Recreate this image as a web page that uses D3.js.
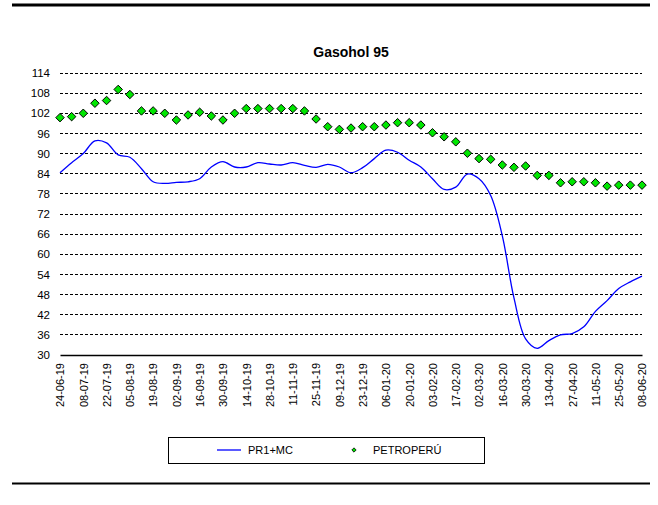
<!DOCTYPE html>
<html>
<head>
<meta charset="utf-8">
<script src="https://cdn.jsdelivr.net/npm/d3@7"></script>
<style>
  body { margin: 0; background: #fff; }
  svg { display: block; font-family: "Liberation Sans", Arial, sans-serif; }
</style>
</head>
<body>
<svg id="chart" width="658" height="505"></svg>
<script>
// weekly categories
const weeks = [
  '24-06-19', '01-07-19', '08-07-19', '15-07-19', '22-07-19', '29-07-19', '05-08-19', '12-08-19',
  '19-08-19', '26-08-19', '02-09-19', '09-09-19', '16-09-19', '23-09-19', '30-09-19', '07-10-19',
  '14-10-19', '21-10-19', '28-10-19', '04-11-19', '11-11-19', '18-11-19', '25-11-19', '02-12-19',
  '09-12-19', '16-12-19', '23-12-19', '30-12-19', '06-01-20', '13-01-20', '20-01-20', '27-01-20',
  '03-02-20', '10-02-20', '17-02-20', '24-02-20', '02-03-20', '09-03-20', '16-03-20', '23-03-20',
  '30-03-20', '06-04-20', '13-04-20', '20-04-20', '27-04-20', '04-05-20', '11-05-20', '18-05-20',
  '25-05-20', '01-06-20', '08-06-20'
];

const pr1mc = [
  84.3, 87.3, 90.0, 93.8, 93.2, 89.6, 88.9, 85.5, 81.6, 81.1,
  81.4, 81.6, 82.5, 86.0, 87.6, 86.0, 86.0, 87.3, 86.9, 86.6,
  87.3, 86.5, 85.9, 86.8, 86.0, 84.3, 85.8, 88.5, 91.0, 90.4,
  88.0, 86.0, 82.5, 79.3, 80.0, 83.9, 82.5, 77.5, 65.5, 47.0,
  34.8, 32.0, 34.3, 36.0, 36.4, 38.4, 43.0, 46.2, 49.8, 51.8,
  53.5
];

const petroperu = [
  100.7, 101.0, 102.0, 105.0, 105.8, 109.1, 107.6, 102.7, 102.7, 102.0,
  100.0, 101.5, 102.3, 101.2, 100.0, 102.0, 103.4, 103.4, 103.4, 103.4,
  103.4, 102.7, 100.3, 98.0, 97.2, 97.6, 98.0, 98.0, 98.5, 99.2,
  99.2, 98.5, 96.2, 95.0, 93.5, 90.1, 88.5, 88.3, 86.6, 85.9,
  86.3, 83.5, 83.5, 81.3, 81.6, 81.6, 81.3, 80.3, 80.6, 80.6,
  80.6
];

const yTicks = [30, 36, 42, 48, 54, 60, 66, 72, 78, 84, 90, 96, 102, 108, 114];

const svg = d3.select('#chart');
const plot = { left: 60, right: 642, top: 73, bottom: 355 };

// frame lines top and bottom
svg.append('line')
  .attr('x1', 12).attr('x2', 650).attr('y1', 5).attr('y2', 5)
  .attr('stroke', '#000').attr('stroke-width', 3);
svg.append('line')
  .attr('x1', 12).attr('x2', 650).attr('y1', 483.5).attr('y2', 483.5)
  .attr('stroke', '#000').attr('stroke-width', 2);

svg.append('text')
  .attr('x', 351).attr('y', 57)
  .attr('text-anchor', 'middle')
  .attr('font-size', '14px')
  .attr('font-weight', 'bold')
  .text('Gasohol 95');

const x = d3.scalePoint().domain(weeks).range([plot.left, plot.right]);
const y = d3.scaleLinear().domain([30, 114]).range([plot.bottom, plot.top]);

// gridlines
svg.append('g')
  .selectAll('line')
  .data(yTicks.filter((d) => d > 30))
  .join('line')
    .attr('x1', plot.left).attr('x2', plot.right)
    .attr('y1', (d) => y(d)).attr('y2', (d) => y(d))
    .attr('stroke', '#000')
    .attr('stroke-width', 1)
    .attr('stroke-dasharray', '3,2')
    .attr('shape-rendering', 'crispEdges');

const yAxis = svg.append('g')
  .attr('transform', `translate(${plot.left},0)`)
  .call(d3.axisLeft(y).tickValues(yTicks).tickSize(0).tickPadding(10));
yAxis.select('.domain').remove();
yAxis.selectAll('text').attr('font-size', '11.5px').attr('fill', '#000')
  .attr('font-family', '"Liberation Sans", Arial, sans-serif');

const xAxis = svg.append('g')
  .attr('transform', `translate(0,${plot.bottom})`)
  .call(d3.axisBottom(x).tickValues(weeks.filter((d, i) => i % 2 === 0)).tickSize(0).tickPadding(8));
xAxis.select('.domain')
  .attr('stroke', '#000').attr('stroke-width', 1.5);
xAxis.selectAll('text')
  .attr('font-size', '11px').attr('fill', '#000')
  .attr('font-family', '"Liberation Sans", Arial, sans-serif')
  .attr('transform', 'rotate(-90)')
  .attr('text-anchor', 'end')
  .attr('x', -8)
  .attr('y', 0)
  .attr('dy', '0.35em');

const line = d3.line()
  .x((d, i) => x(weeks[i]))
  .y((d) => y(d))
  .curve(d3.curveCatmullRom.alpha(0.5));

svg.append('path')
  .datum(pr1mc)
  .attr('fill', 'none')
  .attr('stroke', '#0000ff')
  .attr('stroke-width', 1.3)
  .attr('d', line);

const diamond = d3.symbol().type(d3.symbolDiamond2).size(46);
svg.append('g')
  .selectAll('path')
  .data(petroperu)
  .join('path')
    .attr('transform', (d, i) => `translate(${x(weeks[i])},${y(d)})`)
    .attr('d', diamond)
    .attr('fill', '#00e600')
    .attr('stroke', '#000')
    .attr('stroke-width', 1);

// legend
const legend = svg.append('g');
legend.append('rect')
  .attr('x', 168.5).attr('y', 437.5).attr('width', 316).attr('height', 26)
  .attr('fill', '#fff').attr('stroke', '#000').attr('stroke-width', 1);
legend.append('line')
  .attr('x1', 217).attr('x2', 241).attr('y1', 450).attr('y2', 450)
  .attr('stroke', '#0000ff').attr('stroke-width', 1.3);
legend.append('text')
  .attr('x', 248).attr('y', 454).attr('font-size', '11px').text('PR1+MC');
legend.append('path')
  .attr('transform', 'translate(354,450)')
  .attr('d', d3.symbol().type(d3.symbolDiamond2).size(12))
  .attr('fill', '#00e600').attr('stroke', '#000').attr('stroke-width', 0.8);
legend.append('text')
  .attr('x', 373).attr('y', 454).attr('font-size', '11px').text('PETROPERÚ');
</script>
</body>
</html>
